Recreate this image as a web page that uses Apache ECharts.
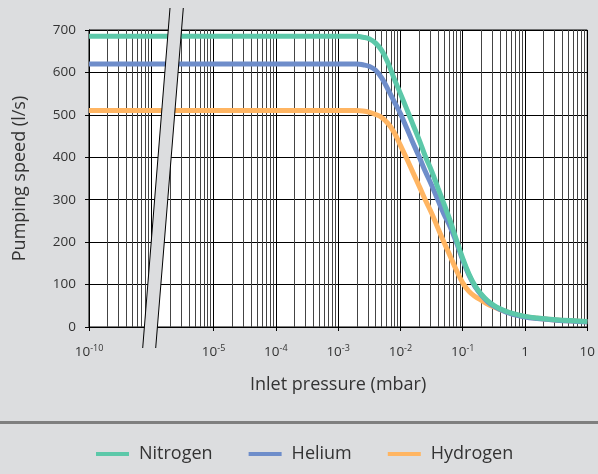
<!DOCTYPE html>
<html><head><meta charset="utf-8">
<script src="https://cdn.jsdelivr.net/npm/echarts@6/dist/echarts.min.js"></script>
<style>html,body{margin:0;padding:0;background:#dcdddf}#c{width:598px;height:474px}</style>
</head><body><div id="c"></div>
<script>
// ---- data ----
const seriesNames = ['Nitrogen', 'Helium', 'Hydrogen'];
const seriesColors = ['#5cc8a9', '#6e8dca', '#ffb562'];

// inlet pressure (mbar), shared by all series
const pressure = [1e-10, 1e-5, 1e-3, 2e-3, 2.5e-3, 3.2e-3, 4e-3, 5e-3, 6.3e-3, 7.9e-3, 1e-2, 1.26e-2, 1.58e-2, 2e-2, 2.5e-2, 3.2e-2, 4e-2, 5e-2, 6.3e-2, 7.9e-2, 0.1, 0.126, 0.158, 0.2, 0.25, 0.316, 0.4, 0.5, 0.63, 1, 1.58, 3.16, 10];
// pumping speed (l/s)
const nitrogen = [685, 685, 685, 685, 683, 679, 669, 652, 623, 586, 550, 514, 478, 441, 403, 366, 328, 290, 250, 206, 162, 125, 97, 77, 62, 51, 43, 37, 32, 25, 21, 17, 13];
const helium   = [620, 620, 620, 620, 618, 614, 605, 587, 560, 532, 503, 469, 435, 401, 367, 333, 299, 266, 236, 200, 158, 122, 95, 75, 60, 49, 41, 35, 30, 23.5, 20, 16, 12];
const hydrogen = [510, 510, 510, 510, 509, 506, 501, 494, 480, 459, 428, 397, 365, 332, 300, 267, 233, 200, 167, 134, 104, 84, 72, 63, 54, 47, 41, 36, 31, 24.5, 20.5, 16.5, 12.5];

// x tick labels (decade exponents; null = hidden at the axis break)
const xTickExponents = [-10, null, -5, -4, -3, -2, -1, 0, 1];
// axis break: decades 1e-9 .. 1e-6 are cut out
const breakFrom = -9, breakTo = -6;
const minorDecades = [-10, -6, -5, -4, -3, -2, -1, 0];

// ---- helpers ----
function toAxis(p) {
  const lg = Math.log10(p);
  return lg <= breakFrom ? lg : lg - (breakTo - breakFrom);
}
function pairs(S) { return pressure.map((p, i) => [toAxis(p), S[i]]); }
const minorValues = [];
minorDecades.forEach(n => { for (let k = 2; k <= 9; k++) minorValues.push(toAxis(k * Math.pow(10, n))); });

const FONT = 'Open Sans';
const TXT = '#333';
const BG = '#dcdddf';

const chart = echarts.init(document.getElementById('c'), null, { renderer: 'canvas' });

const dataSets = { Nitrogen: pairs(nitrogen), Helium: pairs(helium), Hydrogen: pairs(hydrogen) };
const drawOrder = ['Hydrogen', 'Helium', 'Nitrogen'];

chart.setOption({
  backgroundColor: BG,
  animation: false,
  textStyle: { fontFamily: FONT },
  grid: { left: 89, right: 7, top: 30, bottom: 147, show: true, backgroundColor: '#fff', borderColor: '#000', borderWidth: 1 },
  legend: {
    data: seriesNames,
    left: 96, top: 443, padding: 0,
    icon: 'rect', itemWidth: 33, itemHeight: 4, itemGap: 36,
    textStyle: { fontFamily: FONT, fontSize: 18, color: TXT, padding: [0, 0, 0, 5], lineHeight: 22 }
  },
  xAxis: [{
    type: 'value', min: -10, max: -2, interval: 1,
    name: 'Inlet pressure (mbar)', nameLocation: 'middle', nameGap: 49,
    nameTextStyle: { fontFamily: FONT, fontSize: 18, color: TXT },
    axisLine: { show: true, lineStyle: { color: '#000', width: 1 } },
    axisTick: { show: true, length: 4, lineStyle: { color: '#000' } },
    splitLine: { show: true, lineStyle: { color: '#000', width: 1 } },
    axisLabel: {
      margin: 17, color: TXT,
      formatter: function (v) {
        const e = xTickExponents[Math.round(v + 10)];
        if (e === null || e === undefined) return '';
        if (e === 0) return '{b|1}';
        if (e === 1) return '{b|10}';
        return '{b|10}{s|' + e + '}';
      },
      rich: {
        b: { fontFamily: FONT, fontSize: 13.5, lineHeight: 17, color: TXT },
        s: { fontFamily: FONT, fontSize: 9, lineHeight: 10, verticalAlign: 'top', color: TXT }
      }
    }
  }, {
    type: 'value', min: -10, max: -2, position: 'top',
    axisLine: { show: false }, axisLabel: { show: false },
    axisTick: { show: false, customValues: minorValues },
    splitLine: { show: true, lineStyle: { color: '#444', width: 1 } }
  }],
  yAxis: {
    type: 'value', min: 0, max: 700, interval: 100,
    name: 'Pumping speed (l/s)', nameLocation: 'middle', nameGap: 60,
    nameTextStyle: { fontFamily: FONT, fontSize: 18, color: TXT },
    axisLine: { show: true, lineStyle: { color: '#000' } },
    axisTick: { show: true, length: 4, lineStyle: { color: '#000' } },
    splitLine: { show: true, lineStyle: { color: '#000', width: 1 } },
    axisLabel: { margin: 13, fontSize: 13.5, color: TXT, fontFamily: FONT }
  },
  series: drawOrder.map(name => ({
    name: name, type: 'line', xAxisIndex: 0,
    data: dataSets[name], showSymbol: false, smooth: 0.4,
    lineStyle: { width: 5, color: seriesColors[seriesNames.indexOf(name)] },
    itemStyle: { color: seriesColors[seriesNames.indexOf(name)] }
  })),
  graphic: [
    { type: 'rect', left: 0, top: 421, shape: { width: 598, height: 3 }, style: { fill: '#7f7f7f' }, z: 10 },
    { type: 'polygon', shape: { points: [[170, 8], [183.3, 8], [155.7, 348], [142.7, 348]] }, style: { fill: BG }, z: 100 },
    { type: 'line', shape: { x1: 170, y1: 8, x2: 142.7, y2: 348 }, style: { stroke: '#000', lineWidth: 1 }, z: 101 },
    { type: 'line', shape: { x1: 183.3, y1: 8, x2: 155.7, y2: 348 }, style: { stroke: '#000', lineWidth: 1 }, z: 101 }
  ]
});
</script></body></html>
